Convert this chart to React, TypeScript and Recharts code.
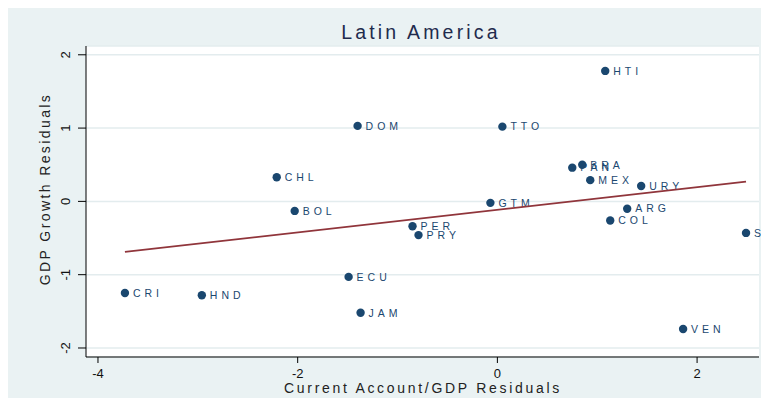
import { ScatterChart, Scatter, XAxis, YAxis, CartesianGrid } from 'recharts';

// residuals
const countries = ['HTI', 'DOM', 'TTO', 'BRA', 'PAN', 'MEX', 'URY', 'CHL', 'BOL', 'GTM', 'ARG', 'COL', 'SLV', 'PER', 'PRY', 'ECU', 'CRI', 'HND', 'JAM', 'VEN'];
const caResid = [1.08, -1.4, 0.05, 0.85, 0.75, 0.93, 1.44, -2.21, -2.03, -0.07, 1.3, 1.13, 2.49, -0.85, -0.79, -1.49, -3.73, -2.96, -1.37, 1.86];
const growthResid = [1.78, 1.03, 1.02, 0.5, 0.46, 0.29, 0.21, 0.33, -0.13, -0.02, -0.1, -0.26, -0.43, -0.34, -0.46, -1.03, -1.25, -1.28, -1.52, -1.74];

// fitted line endpoints
const fitX = [-3.73, 2.49];
const fitY = [-0.69, 0.27];

const xTicks = [-4, -2, 0, 2];
const yTicks = [-2, -1, 0, 1, 2];

const W = 761;
const H = 390;
const M = { top: 38, right: 10, bottom: 1, left: 18 };
const Y_AXIS_W = 60;
const X_AXIS_H = 40;

const NAVY = '#1a476f';
const MAROON = '#90353b';
const BG = '#eaf2f3';

const points = countries.map((name, i) => ({ name, x: caResid[i], y: growthResid[i] }));
const fit = fitX.map((x, i) => ({ x, y: fitY[i] }));

function Marker(props: any) {
  const { cx, cy, payload } = props;
  return (
    <g>
      <circle cx={cx} cy={cy} r={4.2} fill={NAVY} />
      <text x={cx + 8} y={cy} dy="0.36em" fontSize={10.5} fill={NAVY} style={{ letterSpacing: '4px' }}>
        {payload.name}
      </text>
    </g>
  );
}

function YTick(props: any) {
  const { x, y, payload } = props;
  const tx = x - 10;
  return (
    <text x={tx} y={y} transform={`rotate(-90 ${tx} ${y})`} textAnchor="middle" dominantBaseline="central" fontSize={13} fill="#111">
      {payload.value}
    </text>
  );
}

export default function App() {
  return (
    <div style={{ position: 'relative', width: W, height: H, background: BG, fontFamily: '"Liberation Sans", Arial, sans-serif' }}>
      <ScatterChart width={W} height={H} margin={M}>
        <CartesianGrid vertical={false} stroke="#e3ecee" strokeWidth={1.5} fill="#ffffff" fillOpacity={1} />
        <XAxis
          dataKey="x"
          type="number"
          domain={[-4.12, 2.62]}
          ticks={xTicks}
          height={X_AXIS_H}
          stroke="#000"
          tickSize={6}
          tickMargin={6}
          tick={{ fontSize: 13, fill: '#111' }}
        />
        <YAxis
          dataKey="y"
          type="number"
          domain={[-2.123, 2.12]}
          ticks={yTicks}
          width={Y_AXIS_W}
          stroke="#000"
          tickSize={8}
          tickMargin={2}
          tick={<YTick />}
        />
        <Scatter data={points} shape={<Marker />} isAnimationActive={false} />
        <Scatter
          data={fit}
          line={{ stroke: MAROON, strokeWidth: 1.8 }}
          shape={() => <g />}
          isAnimationActive={false}
        />
      </ScatterChart>
      <svg width={W} height={H} style={{ position: 'absolute', left: 0, top: 0, pointerEvents: 'none' }}>
        <text x={413} y={31} textAnchor="middle" fontSize={19.5} fill="#1f2b4d" style={{ letterSpacing: '3.2px' }}>
          Latin America
        </text>
        <text x={415} y={385} textAnchor="middle" fontSize={14} fill="#222" style={{ letterSpacing: '2.7px' }}>
          Current Account/GDP Residuals
        </text>
        <text x={42} y={181} transform="rotate(-90 42 181)" textAnchor="middle" fontSize={14} fill="#222" style={{ letterSpacing: '2.4px' }}>
          GDP Growth Residuals
        </text>
      </svg>
    </div>
  );
}
